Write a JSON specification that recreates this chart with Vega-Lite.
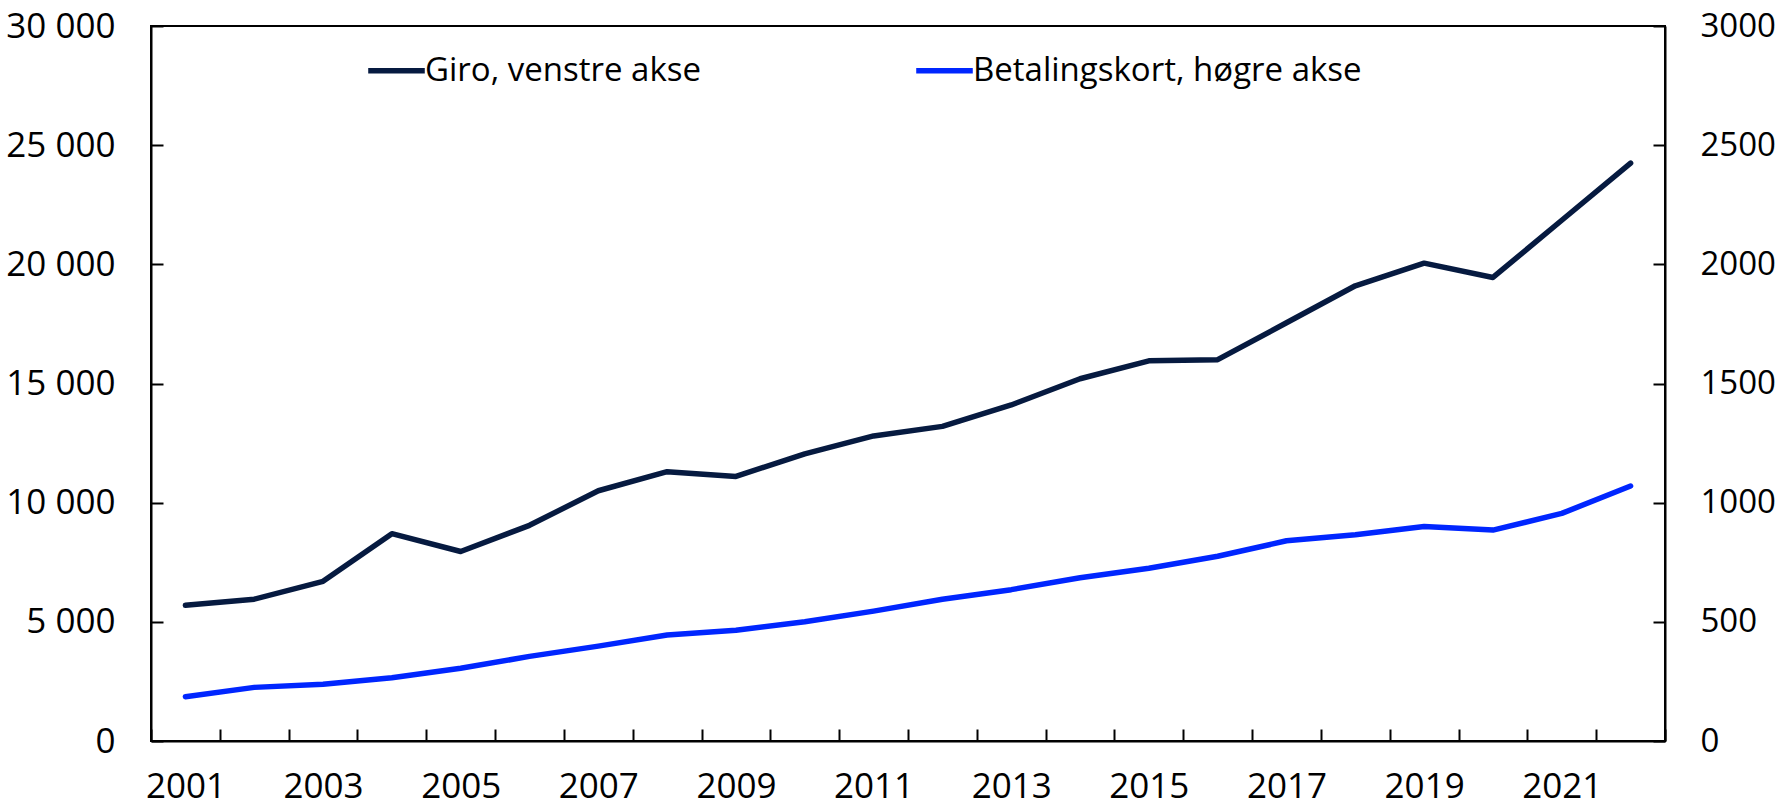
{
  "$schema": "https://vega.github.io/schema/vega-lite/v6.json",
  "autosize": {"type": "none"},
  "padding": {"left": 151, "top": 26, "right": 114, "bottom": 65},
  "width": 1514,
  "height": 715,
  "background": "white",
  "config": {
    "font": "Open Sans",
    "view": {"stroke": "black", "strokeWidth": 2},
    "axis": {"labelFont": "Open Sans", "labelFontSize": 35, "labelColor": "black", "domainColor": "black", "domainWidth": 2, "tickColor": "black", "tickWidth": 2, "grid": false, "title": null}
  },
  "data": {
    "values": [
      {"year": "2001", "giro": 5700, "kort": 186},
      {"year": "2002", "giro": 5950, "kort": 225},
      {"year": "2003", "giro": 6700, "kort": 238},
      {"year": "2004", "giro": 8700, "kort": 265},
      {"year": "2005", "giro": 7950, "kort": 305},
      {"year": "2006", "giro": 9050, "kort": 355},
      {"year": "2007", "giro": 10500, "kort": 398},
      {"year": "2008", "giro": 11300, "kort": 445},
      {"year": "2009", "giro": 11100, "kort": 465},
      {"year": "2010", "giro": 12050, "kort": 500},
      {"year": "2011", "giro": 12800, "kort": 545},
      {"year": "2012", "giro": 13200, "kort": 595},
      {"year": "2013", "giro": 14100, "kort": 635},
      {"year": "2014", "giro": 15200, "kort": 685},
      {"year": "2015", "giro": 15950, "kort": 725},
      {"year": "2016", "giro": 16000, "kort": 775},
      {"year": "2017", "giro": 17550, "kort": 840},
      {"year": "2018", "giro": 19100, "kort": 865},
      {"year": "2019", "giro": 20050, "kort": 900},
      {"year": "2020", "giro": 19450, "kort": 885},
      {"year": "2021", "giro": 21850, "kort": 955},
      {"year": "2022", "giro": 24250, "kort": 1070}
    ]
  },
  "encoding": {
    "x": {
      "field": "year", "type": "ordinal",
      "scale": {"type": "band", "paddingInner": 0, "paddingOuter": 0},
      "axis": {
        "labelAngle": 0, "tickBand": "extent", "tickSize": -12, "labelPadding": 40,
        "labelExpr": "parseInt(datum.value) % 2 == 1 ? datum.value : ''",
        "labelOverlap": false
      }
    },
    "color": {
      "scale": {"domain": ["Giro, venstre akse", "Betalingskort, høgre akse"], "range": ["#061a40", "#0026ff"]},
      "legend": {
        "title": null, "orient": "none", "direction": "horizontal",
        "legendX": 214, "legendY": 13,
        "symbolType": "stroke", "symbolSize": 3200, "symbolStrokeWidth": 5.5,
        "labelFontSize": 33, "labelFont": "Open Sans", "labelColor": "black",
        "labelOffset": -3, "columnPadding": 203, "labelLimit": 600
      }
    }
  },
  "layer": [
    {
      "mark": {"type": "line", "strokeWidth": 5.5, "strokeCap": "round", "strokeJoin": "round"},
      "encoding": {
        "y": {
          "field": "giro", "type": "quantitative",
          "scale": {"domain": [0, 30000], "nice": false},
          "axis": {"orient": "left", "values": [0, 5000, 10000, 15000, 20000, 25000, 30000], "tickSize": -12, "labelPadding": 48, "labelExpr": "replace(format(datum.value, ','), ',', ' ')"}
        },
        "color": {"datum": "Giro, venstre akse"}
      }
    },
    {
      "mark": {"type": "line", "strokeWidth": 5.5, "strokeCap": "round", "strokeJoin": "round"},
      "encoding": {
        "y": {
          "field": "kort", "type": "quantitative",
          "scale": {"domain": [0, 3000], "nice": false},
          "axis": {"orient": "right", "values": [0, 500, 1000, 1500, 2000, 2500, 3000], "tickSize": -12, "labelPadding": 47, "labelFontSize": 33, "format": "d"}
        },
        "color": {"datum": "Betalingskort, høgre akse"}
      }
    }
  ],
  "resolve": {"scale": {"y": "independent"}}
}
